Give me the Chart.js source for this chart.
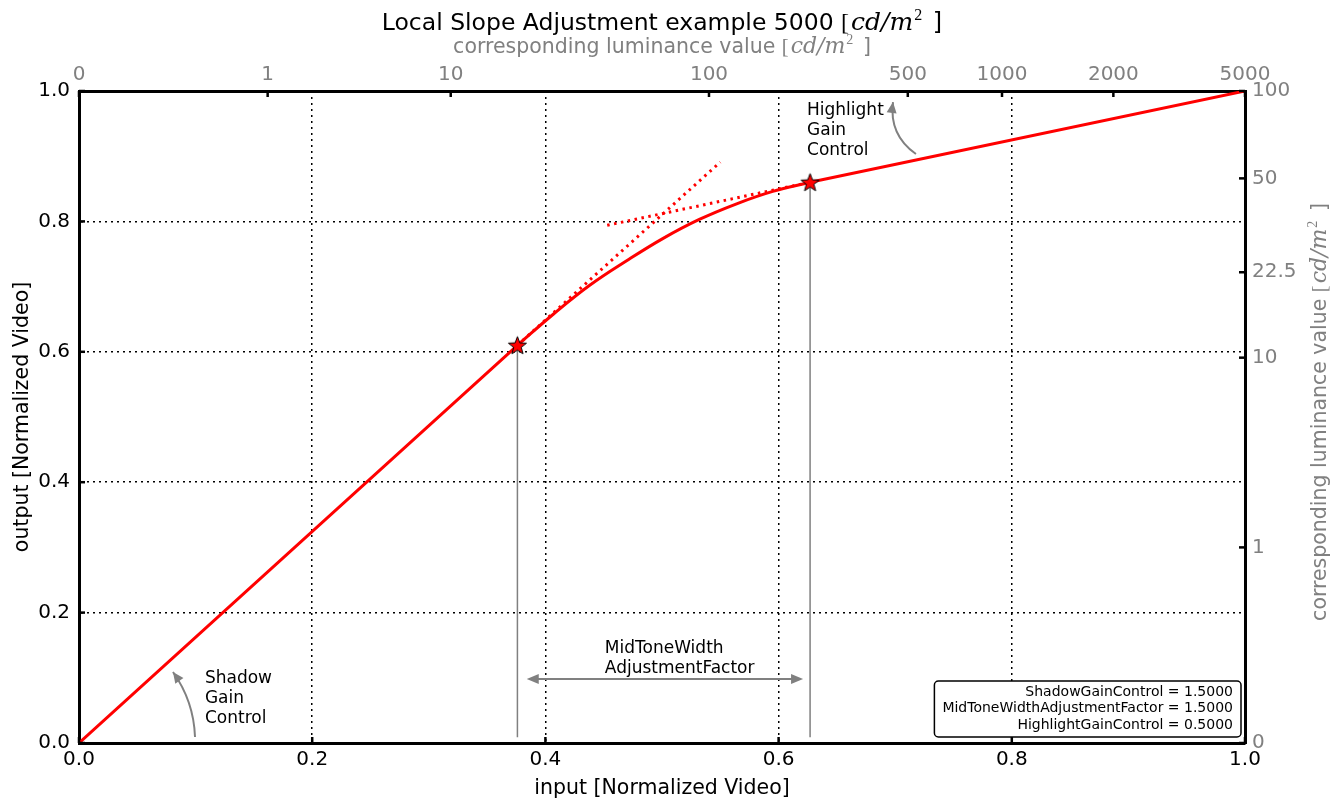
<!DOCTYPE html>
<html>
<head>
<meta charset="utf-8">
<title>Local Slope Adjustment example 5000</title>
<script src="https://cdn.jsdelivr.net/npm/chart.js@4/dist/chart.umd.min.js"></script>
<style>
  html, body { margin: 0; padding: 0; background: #fff; }
  canvas { display: block; }
</style>
</head>
<body>
<canvas id="chart" width="1336" height="802"></canvas>
<script>
// Tone curve, in three parts: linear shadow segment, curved mid-tone, linear highlight segment
const shadowSegX = [0.000, 0.376];
const shadowSegY = [0.000, 0.610];
const midToneX = [0.376, 0.407, 0.438, 0.470, 0.501, 0.532, 0.564, 0.595, 0.627];
const midToneY = [0.610, 0.658, 0.702, 0.740, 0.774, 0.803, 0.827, 0.846, 0.860];
const highlightSegX = [0.627, 1.000];
const highlightSegY = [0.860, 1.000];

// Pivot points where the mid-tone section starts and ends
const pivotX = [0.376, 0.627];
const pivotY = [0.610, 0.860];

// Extensions of the shadow and highlight slopes
const shadowSlopeX = [0.376, 0.550];
const shadowSlopeY = [0.610, 0.891];
const highlightSlopeX = [0.453, 0.627];
const highlightSlopeY = [0.794, 0.860];

// Secondary axes: luminance values in cd/m2
const topTickPos = [0, 0.1618, 0.3188, 0.5403, 0.7108, 0.7916, 0.8871, 1.0];
const topTickLabels = ['0', '1', '10', '100', '500', '1000', '2000', '5000'];
const rightTickPos = [0, 0.300, 0.591, 0.722, 0.866, 1.0];
const rightTickLabels = ['0', '1', '10', '22.5', '50', '100'];

// Parameter box
const paramNames = ['ShadowGainControl', 'MidToneWidthAdjustmentFactor', 'HighlightGainControl'];
const paramValues = [1.5, 1.5, 0.5];

const GRAY = '#808080';
const RED = '#ff0000';
const SANS = '"DejaVu Sans", sans-serif';
const SERIF = '"Liberation Serif", "DejaVu Serif", serif';
const MATH = '"DejaVu Serif", "Liberation Serif", serif';

Chart.defaults.font.family = SANS;

const pts = (xs, ys) => xs.map((x, i) => ({ x, y: ys[i] }));

// Red five-pointed star marker
function makeStar(r) {
  const c = document.createElement('canvas');
  const size = Math.ceil(r * 2 + 4);
  c.width = size; c.height = size;
  const g = c.getContext('2d');
  const cx = size / 2, cy = size / 2 + 0.8;
  g.beginPath();
  for (let k = 0; k < 10; k++) {
    const rr = k % 2 === 0 ? r : r * 0.42;
    const a = -Math.PI / 2 + k * Math.PI / 5;
    const px = cx + rr * Math.cos(a), py = cy + rr * Math.sin(a);
    if (k === 0) g.moveTo(px, py); else g.lineTo(px, py);
  }
  g.closePath();
  g.fillStyle = RED;
  g.fill();
  g.lineWidth = 1;
  g.strokeStyle = '#000';
  g.stroke();
  return c;
}
const starImg = makeStar(9.5);

// Draw a string made of differently styled pieces, centred on (cx, baseline)
function drawRich(ctx, parts, cx, baseline) {
  let total = 0;
  parts.forEach(p => {
    ctx.font = p.font;
    p.w = ctx.measureText(p.text).width + (p.gap || 0);
    total += p.w;
  });
  let x = cx - total / 2;
  ctx.textAlign = 'left';
  ctx.textBaseline = 'alphabetic';
  parts.forEach(p => {
    ctx.font = p.font;
    ctx.fillStyle = p.color;
    ctx.fillText(p.text, x, baseline - (p.rise || 0));
    x += p.w;
  });
}

// "[cd/m^2 ]" unit suffix
function unitParts(color, size) {
  return [
    { text: '[', font: `${size}px ${SERIF}`, color, gap: 2 },
    { text: 'cd/m', font: `italic ${Math.round(size * 1.05)}px ${MATH}`, color, gap: 1 },
    { text: '2', font: `${Math.round(size * 0.68)}px ${SERIF}`, color, rise: size * 0.42, gap: 3 },
    { text: ' ]', font: `${size}px ${SANS}`, color }
  ];
}

function arrowHead(ctx, tipX, tipY, fromX, fromY, len, half) {
  const ang = Math.atan2(tipY - fromY, tipX - fromX);
  const bx = tipX - len * Math.cos(ang), by = tipY - len * Math.sin(ang);
  ctx.beginPath();
  ctx.moveTo(tipX, tipY);
  ctx.lineTo(bx + half * Math.sin(ang), by - half * Math.cos(ang));
  ctx.lineTo(bx - half * Math.sin(ang), by + half * Math.cos(ang));
  ctx.closePath();
  ctx.fill();
}

// Curved annotation arrow (tail -> head), bowed sideways by rad
function curvedArrow(ctx, tx, ty, hx, hy, rad) {
  const mx = (tx + hx) / 2, my = (ty + hy) / 2;
  const dx = hx - tx, dy = hy - ty;
  const cx = mx - rad * dy, cy = my + rad * dx;
  ctx.beginPath();
  ctx.moveTo(tx, ty);
  ctx.quadraticCurveTo(cx, cy, hx, hy);
  ctx.stroke();
  arrowHead(ctx, hx, hy, cx, cy, 11, 5);
}

// Annotation anchors in data coordinates
const notes = {
  shadow: { text: ['Shadow', 'Gain', 'Control'], x: 0.108, y: 0.0675, tail: [0.0995, 0.0092], head: [0.0806, 0.1089], rad: 0.15 },
  highlight: { text: ['Highlight', 'Gain', 'Control'], x: 0.6244, y: 0.9387, tail: [0.7178, 0.9034], head: [0.6981, 0.9831], rad: -0.3 },
  midtone: { text: ['MidToneWidth', 'AdjustmentFactor'], x: 0.451, y: 0.130, from: 0.384, to: 0.621, level: 0.098 }
};

// Short tick marks pointing into the plot frame
const frameTicks = {
  id: 'frameTicks',
  afterDatasetsDraw(chart) {
    const ctx = chart.ctx, a = chart.chartArea, len = 6;
    ctx.save();
    ctx.strokeStyle = '#000';
    ctx.lineWidth = 2.5;
    ['x', 'x2'].forEach(id => {
      const s = chart.scales[id];
      const y0 = s.position === 'bottom' ? a.bottom : a.top;
      const dir = s.position === 'bottom' ? -1 : 1;
      s.ticks.forEach(t => {
        const p = s.getPixelForValue(t.value);
        ctx.beginPath(); ctx.moveTo(p, y0); ctx.lineTo(p, y0 + dir * len); ctx.stroke();
      });
    });
    ['y', 'y2'].forEach(id => {
      const s = chart.scales[id];
      const x0 = s.position === 'left' ? a.left : a.right;
      const dir = s.position === 'left' ? 1 : -1;
      s.ticks.forEach(t => {
        const p = s.getPixelForValue(t.value);
        ctx.beginPath(); ctx.moveTo(x0, p); ctx.lineTo(x0 + dir * len, p); ctx.stroke();
      });
    });
    ctx.restore();
  }
};

const annotations = {
  id: 'annotations',
  afterDraw(chart) {
    const ctx = chart.ctx, a = chart.chartArea;
    const X = v => chart.scales.x.getPixelForValue(v);
    const Y = v => chart.scales.y.getPixelForValue(v);
    const cx = (a.left + a.right) / 2;
    ctx.save();

    // Titles
    drawRich(ctx, [{ text: 'Local Slope Adjustment example 5000 ', font: `23.5px ${SANS}`, color: '#000' }]
      .concat(unitParts('#000', 24)), cx, 30);
    drawRich(ctx, [{ text: 'corresponding luminance value ', font: `20.5px ${SANS}`, color: GRAY }]
      .concat(unitParts(GRAY, 20.5)), cx, 53);
    ctx.save();
    ctx.translate(1326, (a.top + a.bottom) / 2 - 5);
    ctx.rotate(-Math.PI / 2);
    drawRich(ctx, [{ text: 'corresponding luminance value ', font: `20.5px ${SANS}`, color: GRAY }]
      .concat(unitParts(GRAY, 20.5)), 0, 0);
    ctx.restore();

    // Text labels
    ctx.fillStyle = '#000';
    ctx.font = `17px ${SANS}`;
    ctx.textAlign = 'left';
    ctx.textBaseline = 'middle';
    const lh = 20;
    [notes.shadow, notes.highlight, notes.midtone].forEach(n => {
      const y0 = Y(n.y) - (n.text.length - 1) * lh / 2;
      n.text.forEach((line, i) => ctx.fillText(line, X(n.x), y0 + i * lh));
    });

    // Arrows
    ctx.strokeStyle = GRAY;
    ctx.fillStyle = GRAY;
    ctx.lineWidth = 2;
    [notes.shadow, notes.highlight].forEach(n => {
      curvedArrow(ctx, X(n.tail[0]), Y(n.tail[1]), X(n.head[0]), Y(n.head[1]), n.rad);
    });
    const m = notes.midtone;
    const y = Y(m.level), x1 = X(m.from), x2 = X(m.to);
    ctx.beginPath(); ctx.moveTo(x1 + 6, y); ctx.lineTo(x2 - 6, y); ctx.stroke();
    arrowHead(ctx, x1, y, x2, y, 12, 5);
    arrowHead(ctx, x2, y, x1, y, 12, 5);

    // Parameter box
    ctx.font = `14px ${SANS}`;
    const lines = paramNames.map((nm, i) => `${nm} = ${paramValues[i].toFixed(4)}`);
    const tw = Math.max(...lines.map(l => ctx.measureText(l).width));
    const bw = tw + 16, bh = 56;
    const bx = a.right - 4 - bw, by = a.bottom - 6 - bh;
    ctx.beginPath();
    ctx.roundRect(bx, by, bw, bh, 4);
    ctx.fillStyle = '#fff';
    ctx.fill();
    ctx.lineWidth = 1.5;
    ctx.strokeStyle = '#000';
    ctx.stroke();
    ctx.fillStyle = '#000';
    ctx.textAlign = 'right';
    ctx.textBaseline = 'middle';
    lines.forEach((l, i) => ctx.fillText(l, bx + bw - 8, by + 11 + i * 16.5));

    ctx.restore();
  }
};

const tickFont = { size: 20, family: SANS };
const curveStyle = { showLine: true, borderColor: RED, borderWidth: 3, pointRadius: 0, borderCapStyle: 'round', borderJoinStyle: 'round' };
const dropStyle = { showLine: true, borderColor: GRAY, borderWidth: 1.5, pointRadius: 0 };

new Chart(document.getElementById('chart'), {
  type: 'scatter',
  data: {
    datasets: [
      { label: 'pivots', data: pts(pivotX, pivotY), pointStyle: starImg, pointRadius: 10, showLine: false },
      Object.assign({ label: 'shadow segment', data: pts(shadowSegX, shadowSegY), tension: 0 }, curveStyle),
      Object.assign({ label: 'mid-tone', data: pts(midToneX, midToneY), tension: 0.4 }, curveStyle),
      Object.assign({ label: 'highlight segment', data: pts(highlightSegX, highlightSegY), tension: 0 }, curveStyle),
      Object.assign({ label: 'shadow slope', data: pts(shadowSlopeX, shadowSlopeY) }, curveStyle, { borderDash: [2.5, 4.5], borderCapStyle: 'butt' }),
      Object.assign({ label: 'highlight slope', data: pts(highlightSlopeX, highlightSlopeY) }, curveStyle, { borderDash: [2.5, 4.5], borderCapStyle: 'butt' }),
      Object.assign({ label: 'pivot 1 drop', data: [{ x: pivotX[0], y: pivotY[0] }, { x: pivotX[0], y: 0.009 }] }, dropStyle),
      Object.assign({ label: 'pivot 2 drop', data: [{ x: pivotX[1], y: pivotY[1] }, { x: pivotX[1], y: 0.009 }] }, dropStyle)
    ]
  },
  options: {
    responsive: false,
    animation: false,
    devicePixelRatio: 1,
    layout: { padding: 0 },
    plugins: {
      legend: { display: false },
      tooltip: { enabled: false },
      title: { display: false }
    },
    scales: {
      x: {
        type: 'linear', position: 'bottom', min: 0, max: 1,
        ticks: { stepSize: 0.2, callback: v => v.toFixed(1), color: '#000', font: tickFont, padding: 5, maxRotation: 0, autoSkip: false },
        grid: { color: '#000', lineWidth: 1.5, drawTicks: false },
        border: { display: true, color: '#000', width: 3, dash: [2, 4] },
        title: { display: true, text: 'input [Normalized Video]', color: '#000', font: { size: 20.5, family: SANS }, padding: { top: 0, bottom: 1 } },
        afterFit: s => { s.height = 59; }
      },
      x2: {
        type: 'linear', position: 'top', min: 0, max: 1,
        afterBuildTicks: s => { s.ticks = topTickPos.map(v => ({ value: v })); },
        ticks: { callback: (v, i) => topTickLabels[i], color: GRAY, font: tickFont, padding: 4, maxRotation: 0, autoSkip: false },
        grid: { display: false, drawTicks: false },
        border: { display: true, color: '#000', width: 3 },
        afterFit: s => { s.height = 91; }
      },
      y: {
        type: 'linear', position: 'left', min: 0, max: 1,
        ticks: { stepSize: 0.2, callback: v => v.toFixed(1), color: '#000', font: tickFont, padding: 9, autoSkip: false },
        grid: { color: '#000', lineWidth: 1.5, drawTicks: false },
        border: { display: true, color: '#000', width: 3, dash: [2, 4] },
        title: { display: true, text: 'output [Normalized Video]', color: '#000', font: { size: 20.5, family: SANS }, padding: { top: 10, bottom: 0 } },
        afterFit: s => { s.width = 79; }
      },
      y2: {
        type: 'linear', position: 'right', min: 0, max: 1,
        afterBuildTicks: s => { s.ticks = rightTickPos.map(v => ({ value: v })); },
        ticks: { callback: (v, i) => rightTickLabels[i], color: GRAY, font: tickFont, padding: 7, autoSkip: false },
        grid: { display: false, drawTicks: false },
        border: { display: true, color: '#000', width: 3 },
        afterFit: s => { s.width = 91; }
      }
    }
  },
  plugins: [frameTicks, annotations]
});
</script>
</body>
</html>
